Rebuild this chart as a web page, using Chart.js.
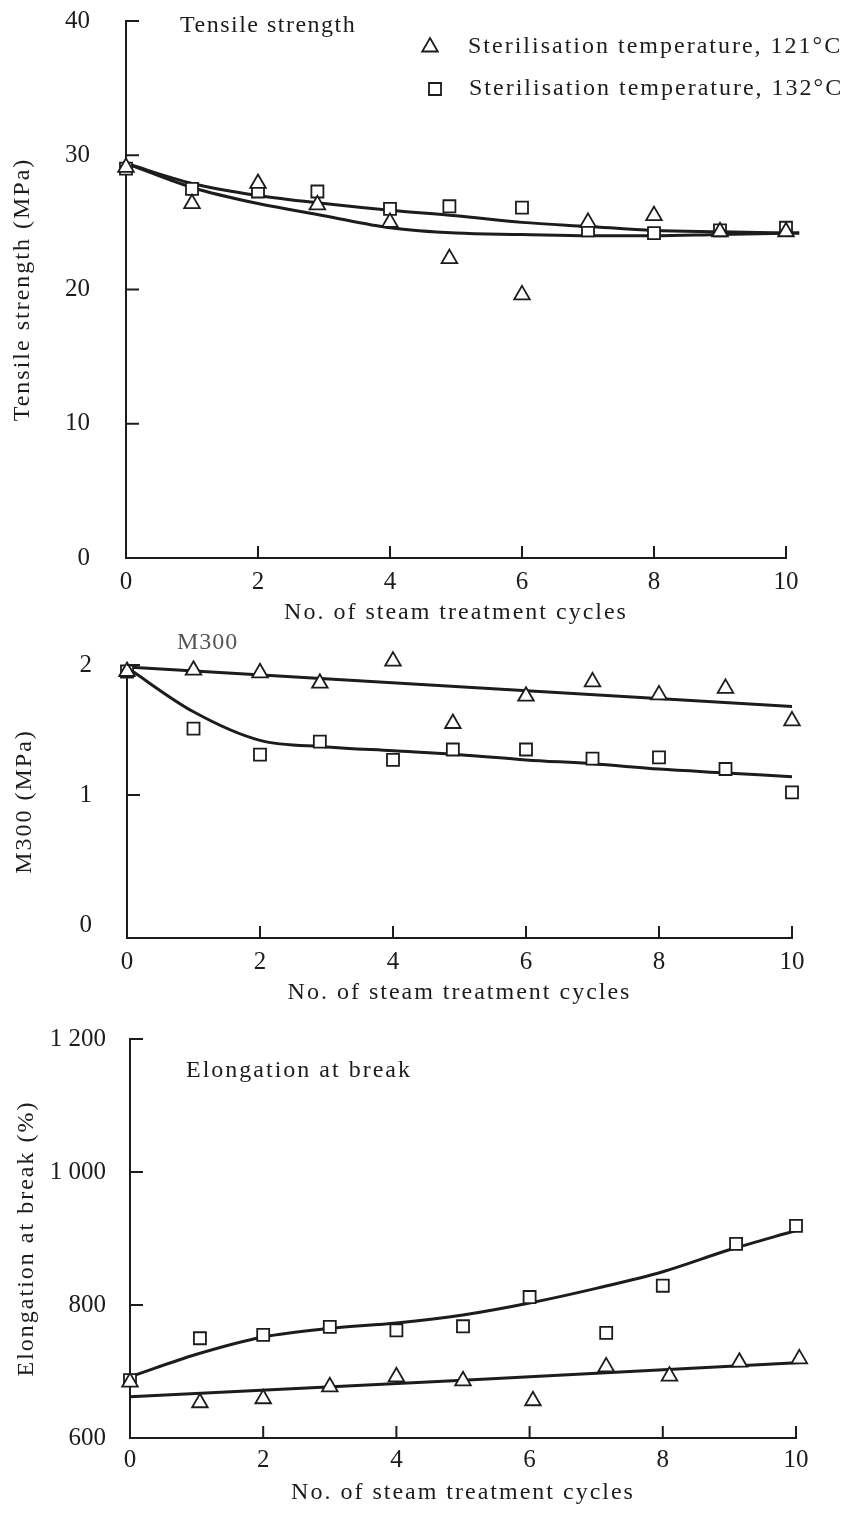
<!DOCTYPE html>
<html>
<head>
<meta charset="utf-8">
<script src="https://cdn.jsdelivr.net/npm/chart.js@4.4.1/dist/chart.umd.min.js"></script>
<style>
	html, body { margin: 0; padding: 0; background: #fff; }
	#wrap { position: relative; width: 853px; height: 1518px; }
	canvas { position: absolute; left: 0; }
</style>
</head>
<body>
<div id="wrap">
	<canvas id="tensileChart" width="853" height="630" style="top:0px"></canvas>
	<canvas id="m300Chart" width="853" height="380" style="top:630px"></canvas>
	<canvas id="elongChart" width="853" height="508" style="top:1010px"></canvas>
</div>
<script>
// ---------- data ----------
const xTicks = [0, 2, 4, 6, 8, 10];
const xTitle = 'No. of steam treatment cycles';
const legend121 = 'Sterilisation temperature, 121\u00B0C';
const legend132 = 'Sterilisation temperature, 132\u00B0C';

// Tensile strength (MPa)
const tsX = [0, 1, 2, 2.9, 4, 4.9, 6, 7, 8, 9, 10];
const ts121 = [29.1, 26.4, 27.9, 26.3, 25.0, 22.3, 19.6, 25.0, 25.5, 24.3, 24.3];
const ts132 = [29.0, 27.5, 27.3, 27.3, 26.0, 26.2, 26.1, 24.4, 24.2, 24.4, 24.6];
const tsFitX = [0, 1, 2, 3, 4, 5, 6, 7, 8, 9, 10.2];
const ts121Fit = [29.4, 27.6, 26.4, 25.5, 24.6, 24.2, 24.1, 24.0, 24.0, 24.1, 24.2];
const ts132Fit = [29.4, 27.9, 27.0, 26.4, 25.9, 25.5, 25.0, 24.7, 24.4, 24.3, 24.2];
const tsTicks = [0, 10, 20, 30, 40];

// M300 (MPa)
const mX = [0, 1, 2, 2.9, 4, 4.9, 6, 7, 8, 9, 10];
const m121 = [1.95, 1.96, 1.94, 1.86, 2.03, 1.55, 1.76, 1.87, 1.77, 1.82, 1.57];
const m132 = [1.95, 1.51, 1.31, 1.41, 1.27, 1.35, 1.35, 1.28, 1.29, 1.20, 1.02];
const m121FitX = [0, 10];
const m121Fit = [1.985, 1.68];
const m132FitX = [0, 1, 2, 3, 4, 5, 6, 7, 8, 9, 10];
const m132Fit = [1.98, 1.64, 1.42, 1.37, 1.34, 1.31, 1.27, 1.24, 1.20, 1.17, 1.14];
const mTicks = [0, 1, 2];

// Elongation at break (%)
const elX121 = [0, 1.05, 2, 3, 4, 5, 6.05, 7.15, 8.1, 9.15, 10.05];
const el121 = [684, 653, 659, 677, 692, 686, 656, 707, 693, 714, 719];
const elX132 = [0, 1.05, 2, 3, 4, 5, 6, 7.15, 8, 9.1, 10];
const el132 = [687, 750, 755, 767, 762, 768, 812, 758, 829, 892, 919];
const el121FitX = [0, 5, 10.15];
const el121Fit = [662, 687, 714];
const el132FitX = [0, 1, 2, 3, 4, 5, 6, 7, 8, 9, 10];
const el132Fit = [692, 726, 752, 765, 773, 785, 803, 825, 850, 883, 912];
const elTicks = [600, 800, 1000, 1200];

// ---------- styling ----------
const INK = '#1c1c1c';
const SERIF = '"Liberation Serif", "DejaVu Serif", serif';

function pairs(xs, ys) {
	return xs.map(function (x, i) { return { x: x, y: ys[i] }; });
}

function drawMarker(ctx, style, x, y, r) {
	ctx.beginPath();
	if (style === 'triangle') {
		ctx.moveTo(x, y - r);
		ctx.lineTo(x + r * Math.sin(Math.PI / 3), y + r / 2);
		ctx.lineTo(x - r * Math.sin(Math.PI / 3), y + r / 2);
		ctx.closePath();
	} else {
		const s = r * Math.SQRT1_2;
		ctx.rect(x - s, y - s, 2 * s, 2 * s);
	}
	ctx.fillStyle = '#fff';
	ctx.fill();
	ctx.stroke();
}

// inward tick marks, spaced lettering and the in-plot notes
const paperStyle = {
	id: 'paperStyle',
	beforeDraw(chart) {
		chart.ctx.letterSpacing = '2px'; // axis titles (drawn before datasets)
	},
	afterDatasetsDraw(chart) {
		chart.ctx.letterSpacing = '0px'; // tick labels (z: 1, drawn after datasets)
	},
	afterDraw(chart, args, opts) {
		const ctx = chart.ctx;
		const xs = chart.scales.x, ys = chart.scales.y;
		ctx.save();
		ctx.strokeStyle = INK;
		ctx.lineWidth = 2;
		xs.ticks.forEach(function (t) {
			if (t.value === xs.min) return;
			const px = xs.getPixelForValue(t.value);
			ctx.beginPath();
			ctx.moveTo(px, ys.bottom);
			ctx.lineTo(px, ys.bottom - 12);
			ctx.stroke();
		});
		ys.ticks.forEach(function (t) {
			if (t.value <= Math.max(ys.min, 0) && t.value !== ys.max) return;
			const py = ys.getPixelForValue(t.value);
			ctx.beginPath();
			ctx.moveTo(xs.left, py);
			ctx.lineTo(xs.left + 13, py);
			ctx.stroke();
		});
		ctx.textBaseline = 'middle';
		ctx.textAlign = 'left';
		(opts.notes || []).forEach(function (n) {
			ctx.font = '24px ' + SERIF;
			ctx.letterSpacing = n.spacing || '2px';
			ctx.fillStyle = n.color || INK;
			ctx.fillText(n.text, n.x, n.y);
			if (n.marker) {
				ctx.lineWidth = 1.8;
				ctx.strokeStyle = INK;
				drawMarker(ctx, n.marker, n.mx, n.y, n.marker === 'triangle' ? 9 : 8.5);
			}
		});
		ctx.restore();
	}
};

function pointSet(data, style) {
	return {
		data: data,
		showLine: false,
		pointStyle: style,
		pointRadius: style === 'triangle' ? 9 : 8.5,
		pointBorderWidth: 1.8,
		pointBorderColor: INK,
		pointBackgroundColor: '#fff',
		clip: false
	};
}

function fitSet(data, tension) {
	return {
		data: data,
		showLine: true,
		pointRadius: 0,
		borderWidth: 3,
		borderColor: INK,
		tension: tension,
		cubicInterpolationMode: tension > 0 ? 'monotone' : 'default',
		clip: false
	};
}

function makeChart(id, opt) {
	return new Chart(document.getElementById(id), {
		type: 'scatter',
		data: { datasets: opt.datasets },
		options: {
			responsive: false,
			animation: false,
			events: [],
			layout: { padding: { top: opt.top, right: opt.right, left: 0, bottom: 0 } },
			scales: {
				x: {
					type: 'linear',
					min: 0,
					max: 10,
					afterBuildTicks: function (s) { s.ticks = xTicks.map(function (v) { return { value: v }; }); },
					afterFit: function (s) {
						s.height = opt.xHeight;
						s.paddingLeft = 0;
						s.paddingRight = 0;
					},
					grid: { display: false, drawTicks: false },
					border: { display: true, color: INK, width: 2 },
					ticks: { z: 1, color: INK, padding: opt.xPad, font: { family: SERIF, size: 25 } },
					title: {
						display: true,
						text: xTitle,
						color: INK,
						font: { family: SERIF, size: 24 },
						padding: { top: 0, bottom: opt.xTitlePad }
					}
				},
				y: {
					type: 'linear',
					min: opt.yMin,
					max: opt.yMax,
					afterBuildTicks: function (s) { s.ticks = opt.yTicks.map(function (v) { return { value: v }; }); },
					afterFit: function (s) {
						s.width = opt.yWidth;
						s.paddingTop = 0;
						s.paddingBottom = 0;
					},
					grid: { display: false, drawTicks: false },
					border: { display: true, color: INK, width: 2 },
					ticks: {
						z: 1,
						color: INK,
						padding: opt.yPad,
						font: { family: SERIF, size: 25 },
						callback: function (v) {
							return v >= 1000 ? String(v).replace(/(\d)(\d{3})$/, '$1 $2') : String(v);
						}
					},
					title: {
						display: true,
						text: opt.yTitle,
						color: INK,
						font: { family: SERIF, size: 24 },
						padding: { top: opt.yTitlePad, bottom: 0 }
					}
				}
			},
			plugins: {
				legend: { display: false },
				tooltip: { enabled: false },
				paperStyle: { notes: opt.notes }
			}
		},
		plugins: [paperStyle]
	});
}

// ---------- Tensile strength ----------
makeChart('tensileChart', {
	top: 21, right: 67, xHeight: 72, yWidth: 126,
	xPad: 9, xTitlePad: 3, yPad: 36, yTitlePad: 8,
	yMin: 0, yMax: 40, yTicks: tsTicks,
	yTitle: 'Tensile strength (MPa)',
	datasets: [
		pointSet(pairs(tsX, ts121), 'triangle'),
		pointSet(pairs(tsX, ts132), 'rect'),
		fitSet(pairs(tsFitX, ts121Fit), 0.4),
		fitSet(pairs(tsFitX, ts132Fit), 0.4)
	],
	notes: [
		{ text: 'Tensile strength', x: 180, y: 26, spacing: '1.5px' },
		{ text: legend121, x: 468, y: 47, marker: 'triangle', mx: 430 },
		{ text: legend132, x: 469, y: 89, marker: 'rect', mx: 435 }
	]
});

// ---------- M300 ----------
makeChart('m300Chart', {
	top: 35, right: 61, xHeight: 72, yWidth: 127,
	xPad: 9, xTitlePad: 3, yPad: 35, yTitlePad: 10,
	yMin: -0.1, yMax: 2, yTicks: mTicks,
	yTitle: 'M300 (MPa)',
	datasets: [
		pointSet(pairs(mX, m121), 'triangle'),
		pointSet(pairs(mX, m132), 'rect'),
		fitSet(pairs(m121FitX, m121Fit), 0),
		fitSet(pairs(m132FitX, m132Fit), 0.4)
	],
	notes: [
		{ text: 'M300', x: 177, y: 13, color: '#555', spacing: '1px' }
	]
});

// ---------- Elongation at break ----------
makeChart('elongChart', {
	top: 29, right: 57, xHeight: 80, yWidth: 130,
	xPad: 7, xTitlePad: 11, yPad: 24, yTitlePad: 12,
	yMin: 600, yMax: 1200, yTicks: elTicks,
	yTitle: 'Elongation at break (%)',
	datasets: [
		pointSet(pairs(elX121, el121), 'triangle'),
		pointSet(pairs(elX132, el132), 'rect'),
		fitSet(pairs(el121FitX, el121Fit), 0.3),
		fitSet(pairs(el132FitX, el132Fit), 0.4)
	],
	notes: [
		{ text: 'Elongation at break', x: 186, y: 61 }
	]
});
</script>
</body>
</html>
